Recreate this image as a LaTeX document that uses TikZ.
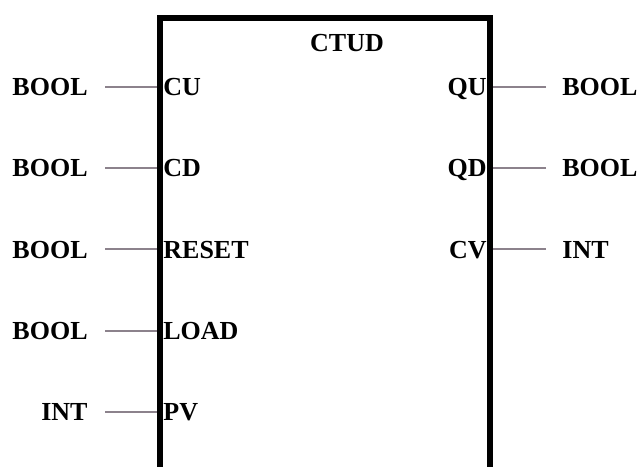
\documentclass[tikz,border=0pt]{standalone}
\usepackage{fontspec}
\setmainfont{Liberation Serif}
\usepackage{tikz}
\usetikzlibrary{backgrounds,calc}
\definecolor{fbwire}{HTML}{8C828C}
\newcommand{\fbfont}{\bfseries\fontsize{13}{15}\selectfont}

\begin{document}
\begin{tikzpicture}[
  x=0.5pt, y=0.5pt,
  fblock/.style={draw=black, line width=3pt, inner sep=0pt,
                 minimum width=165pt, minimum height=225.8pt},
  pname/.style={font=\fbfont, text height=8.6pt, text depth=0pt, inner sep=0pt},
  ptype/.style={font=\fbfont, text height=8.6pt, text depth=0pt,
                inner ysep=0pt, inner xsep=8.5pt},
  wire/.style={draw=fbwire, line width=1pt},
]
  \useasboundingbox (0,0) rectangle (639,467);
  \clip (0,0) rectangle (639,467);

  % Function block --------------------------------------------------------
  \node[fblock] (fb) at (325,223.2) {};
  \node[pname] (title) at (347,424) {CTUD};

  % Inputs ----------------------------------------------------------------
  \foreach \nm/\ty [count=\i from 0] in {CU/BOOL,CD/BOOL,RESET/BOOL,LOAD/BOOL,PV/INT} {
    \node[pname, anchor=west] (in\i) at (163,380-81.25*\i) {\nm};
    \node[ptype, anchor=east] (tin\i) at (105,380-81.25*\i) {\ty};
    \begin{scope}[on background layer]
      \draw[wire] (tin\i) -- (tin\i -| fb.west);
    \end{scope}
  }

  % Outputs ---------------------------------------------------------------
  \foreach \nm/\ty [count=\i from 0] in {QU/BOOL,QD/BOOL,CV/INT} {
    \node[pname, anchor=east] (out\i) at (487,380-81.25*\i) {\nm};
    \node[ptype, anchor=west, inner xsep=8pt] (tout\i) at (546,380-81.25*\i) {\ty};
    \begin{scope}[on background layer]
      \draw[wire] (tout\i) -- (tout\i -| fb.east);
    \end{scope}
  }
\end{tikzpicture}
\end{document}
